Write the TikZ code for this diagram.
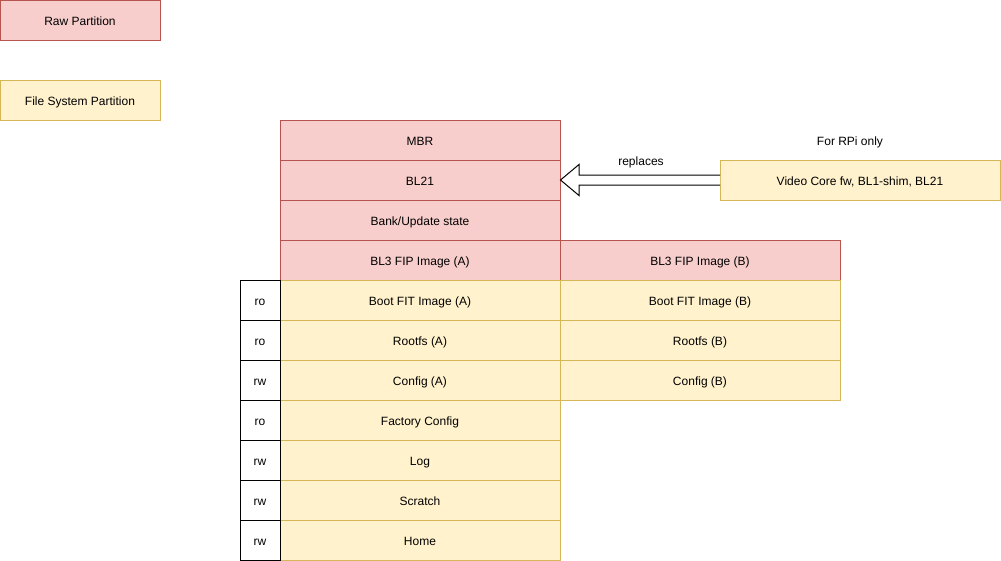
\documentclass[tikz,border=0pt]{standalone}
\usepackage{fontspec}
\setmainfont{Liberation Sans}
\usetikzlibrary{calc}
\definecolor{rawfill}{HTML}{F8CECC}
\definecolor{rawline}{HTML}{B85450}
\definecolor{fsfill}{HTML}{FFF2CC}
\definecolor{fsline}{HTML}{D6B656}
\tikzset{
  base/.style={rectangle, inner sep=0pt, outer sep=0pt, font=\fontsize{9}{11}\selectfont, line width=0.75pt, text height=9pt, text depth=1pt},
  raw/.style={base, fill=rawfill, draw=rawline, minimum width=210pt, minimum height=30pt},
  fs/.style={base, fill=fsfill, draw=fsline, minimum width=210pt, minimum height=30pt},
  acc/.style={base, fill=white, draw=black, minimum width=30pt, minimum height=30pt},
  lbl/.style={base, draw=none, fill=none},
}
\begin{document}
\begin{tikzpicture}[x=0.75pt,y=-0.75pt]
\useasboundingbox (0,0) rectangle (1001,561);
% legend
\node[raw, minimum width=120pt] (legraw) at (80,20) {Raw Partition};
\node[fs, minimum width=120pt] (legfs) at (80,100) {File System Partition};
% column A
\node[raw] (mbr) at (420,140) {MBR};
\node[raw] (bl21) at (420,180) {BL21};
\node[raw] (bank) at (420,220) {Bank/Update state};
\node[raw] (fipa) at (420,260) {BL3 FIP Image (A)};
\node[raw] (fipb) at (700,260) {BL3 FIP Image (B)};
\node[fs] (boota) at (420,300) {Boot FIT Image (A)};
\node[fs] (bootb) at (700,300) {Boot FIT Image (B)};
\node[fs] (rootfsa) at (420,340) {Rootfs (A)};
\node[fs] (rootfsb) at (700,340) {Rootfs (B)};
\node[fs] (cfga) at (420,380) {Config (A)};
\node[fs] (cfgb) at (700,380) {Config (B)};
\node[fs] (factory) at (420,420) {Factory Config};
\node[fs] (log) at (420,460) {Log};
\node[fs] (scratch) at (420,500) {Scratch};
\node[fs] (home) at (420,540) {Home};
% access
\node[acc] (a1) at (260,300) {ro};
\node[acc] (a2) at (260,340) {ro};
\node[acc] (a3) at (260,380) {rw};
\node[acc] (a4) at (260,420) {ro};
\node[acc] (a5) at (260,460) {rw};
\node[acc] (a6) at (260,500) {rw};
\node[acc] (a7) at (260,540) {rw};
% RPi
\node[fs] (vc) at (860,180) {Video Core fw, BL1-shim, BL21};
\node[lbl] (rpi) at (850,140) {For RPi only};
\node[lbl] (repl) at (641,160) {replaces};
% hollow arrow
\coordinate (tip) at (bl21.east);
\draw[line width=0.75pt, fill=white]
  ($(vc.west)+(0,-5)$) -- ($(tip)+(19,-5)$) -- ($(tip)+(19,-15.5)$) -- ($(tip)+(0.5,0)$)
  -- ($(tip)+(19,15.5)$) -- ($(tip)+(19,5)$) -- ($(vc.west)+(0,5)$);
\end{tikzpicture}
\end{document}
